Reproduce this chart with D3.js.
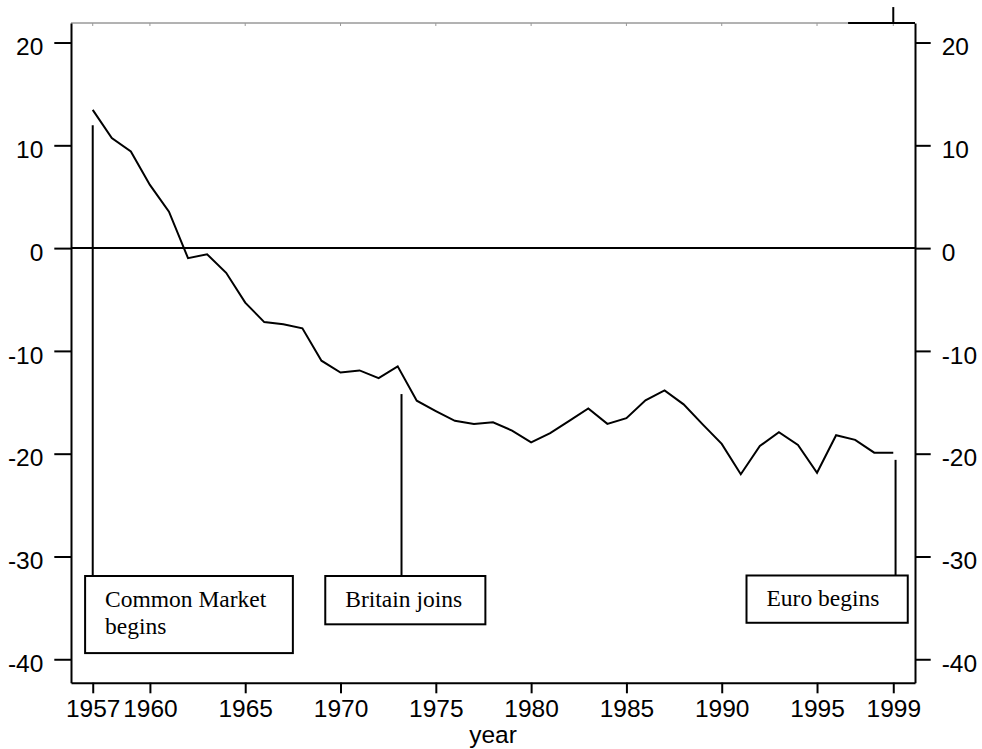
<!DOCTYPE html>
<html>
<head>
<meta charset="utf-8">
<script src="https://cdn.jsdelivr.net/npm/d3@7"></script>
<style>
  body { margin: 0; background: #fff; }
  .axis text { font-family: "Liberation Sans", Arial, sans-serif; font-size: 24.5px; fill: #000; }
  .axis path, .axis line { stroke: #000; stroke-width: 2px; }
  .note text { font-family: "Liberation Serif", "Times New Roman", serif; font-size: 23.5px; fill: #000; }
</style>
</head>
<body>
<div id="chart"></div>
<script>
// Series: yearly values
var years = d3.range(1957, 2000);
var values = [13.45, 10.7, 9.4, 6.15, 3.55, -0.98, -0.6, -2.4, -5.3, -7.2,
    -7.4, -7.8, -10.95, -12.1, -11.9, -12.65, -11.5, -14.85, -15.85, -16.8,
    -17.1, -16.95, -17.75, -18.9, -18.0, -16.8, -15.6, -17.1, -16.55, -14.8,
    -13.85, -15.2, -17.15, -19.05, -22.0, -19.25, -17.9, -19.15, -21.85, -18.2,
    -18.65, -19.9, -19.9];

// Tick labels
var xTicks = [1957, 1960, 1965, 1970, 1975, 1980, 1985, 1990, 1995, 1999];
var yTicks = [-40, -30, -20, -10, 0, 10, 20];

// Annotations: event year, top of marker line, label lines, box extent (data units)
var noteLbls = [["Common Market", "begins"], ["Britain joins"], ["Euro begins"]];
var noteYear = [1957, 1973.2, 1999.12];
var noteTop = [11.95, -14.2, -20.6];
var boxX0 = [1956.6, 1969.2, 1991.3];
var boxX1 = [1967.5, 1977.6, 1999.76];
var boxY0 = [-31.9, -31.9, -31.85];
var boxY1 = [-39.4, -36.6, -36.45];

var svgWdt = 982;
var svgHgt = 749;

var svg = d3.select("#chart").append("svg")
    .attr("width", svgWdt)
    .attr("height", svgHgt);

// Scales
var xScale = d3.scaleLinear().domain([1955.86, 2000.14]).range([71, 915]);
var yScale = d3.scaleLinear().domain([-42.28, 21.9]).range([682.7, 23]);

// Thin top border with small inner ticks
svg.append("line")
    .attr("x1", xScale.range()[0]).attr("x2", xScale.range()[1])
    .attr("y1", yScale(21.9)).attr("y2", yScale(21.9))
    .attr("stroke", "#666").attr("stroke-width", 1);
svg.selectAll(".topTick").data(xTicks).enter()
    .append("line")
        .attr("class", "topTick")
        .attr("x1", d => xScale(d)).attr("x2", d => xScale(d))
        .attr("y1", yScale(21.9)).attr("y2", yScale(21.9) + 3)
        .attr("stroke", "#999").attr("stroke-width", 1);

// Stray mark at top right
svg.append("line")
    .attr("x1", xScale(1996.63)).attr("x2", xScale(2000.14))
    .attr("y1", yScale(21.9)).attr("y2", yScale(21.9))
    .attr("stroke", "#000").attr("stroke-width", 2);
svg.append("line")
    .attr("x1", xScale(1999)).attr("x2", xScale(1999))
    .attr("y1", yScale(23.45)).attr("y2", yScale(21.9))
    .attr("stroke", "#000").attr("stroke-width", 2);

// Axes (plain hyphen for negatives, as in the original)
var plainFmt = d => String(d);
var leftAx = d3.axisLeft(yScale).tickValues(yTicks).tickFormat(plainFmt)
    .tickSize(16.7).tickSizeOuter(0).tickPadding(11);
var rightAx = d3.axisRight(yScale).tickValues(yTicks).tickFormat(plainFmt)
    .tickSize(15.7).tickSizeOuter(0).tickPadding(11);
var botAx = d3.axisBottom(xScale).tickValues(xTicks).tickFormat(plainFmt)
    .tickSize(10.6).tickSizeOuter(0).tickPadding(6.3);

var yAxisL = svg.append("g").attr("class", "axis")
    .attr("transform", `translate(${xScale.range()[0]}, 0)`)
    .call(leftAx);
var yAxisR = svg.append("g").attr("class", "axis")
    .attr("transform", `translate(${xScale.range()[1]}, 0)`)
    .call(rightAx);
var xAxis = svg.append("g").attr("class", "axis")
    .attr("transform", `translate(0, ${yScale.range()[0]})`)
    .call(botAx);

svg.selectAll(".axis").attr("font-family", null).attr("font-size", null);
yAxisL.selectAll("text").attr("dy", "0.5em");
yAxisR.selectAll("text").attr("dy", "0.5em");

// Axis title
svg.append("text")
    .attr("x", (xScale.range()[0] + xScale.range()[1]) / 2)
    .attr("y", 743)
    .attr("text-anchor", "middle")
    .style("font-family", "'Liberation Sans', Arial, sans-serif")
    .style("font-size", "24.5px")
    .text("year");

// Zero reference line
svg.append("line")
    .attr("x1", xScale.range()[0]).attr("x2", xScale.range()[1])
    .attr("y1", yScale(0)).attr("y2", yScale(0))
    .attr("stroke", "#000").attr("stroke-width", 2);

// Data line
var lineGen = d3.line()
    .x((d, i) => xScale(years[i]))
    .y(d => yScale(d));

svg.append("path")
    .datum(values)
    .attr("d", lineGen)
    .attr("fill", "none")
    .attr("stroke", "#000")
    .attr("stroke-width", 2)
    .attr("stroke-linejoin", "miter");

// Event markers and boxes
var notes = svg.selectAll(".note").data(noteLbls).enter()
    .append("g").attr("class", "note");

notes.append("line")
    .attr("x1", (d, i) => xScale(noteYear[i])).attr("x2", (d, i) => xScale(noteYear[i]))
    .attr("y1", (d, i) => yScale(noteTop[i])).attr("y2", (d, i) => yScale(boxY0[i]))
    .attr("stroke", "#000").attr("stroke-width", 2);

notes.append("rect")
    .attr("x", (d, i) => xScale(boxX0[i]))
    .attr("y", (d, i) => yScale(boxY0[i]))
    .attr("width", (d, i) => xScale(boxX1[i]) - xScale(boxX0[i]))
    .attr("height", (d, i) => yScale(boxY1[i]) - yScale(boxY0[i]))
    .attr("fill", "#fff")
    .attr("stroke", "#000").attr("stroke-width", 2);

notes.append("text")
    .attr("x", (d, i) => xScale(boxX0[i]) + 20)
    .attr("y", (d, i) => yScale(boxY0[i]) + 31)
    .selectAll("tspan").data(d => d).enter()
    .append("tspan")
        .attr("x", function() { return this.parentNode.getAttribute("x"); })
        .attr("dy", (d, j) => j === 0 ? 0 : 27.3)
        .text(d => d);
</script>
</body>
</html>
